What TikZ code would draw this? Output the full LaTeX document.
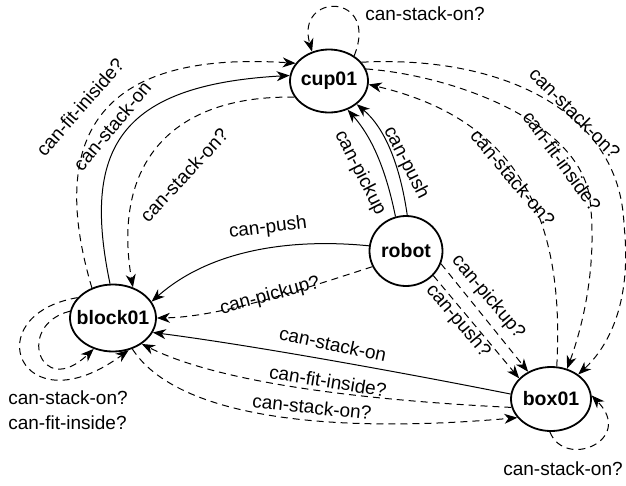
\documentclass[tikz,border=0pt]{standalone}
\usepackage{fontspec}
\setmainfont{Liberation Sans}
\usetikzlibrary{arrows.meta,shapes.geometric}

\begin{document}
\begin{tikzpicture}[x=1pt,y=-1pt,
  state/.style={ellipse, draw, line width=1.8pt, inner sep=0pt,
    font=\fontsize{19.5}{22}\selectfont\bfseries},
  rel/.style={line width=1pt, -{Stealth[length=13pt,width=10pt,inset=4pt]}},
  maybe/.style={rel, dash pattern=on 7pt off 5pt},
  lbl/.style={font=\fontsize{19}{25}\selectfont, inner sep=0pt}]
\useasboundingbox (0,0) rectangle (626,485);

% objects of the scene
\node[state, minimum width=78pt, minimum height=63pt] (cup)   at (329,81)  {\makebox[0pt]{cup01}};
\node[state, minimum width=73pt, minimum height=70pt] (robot) at (406,251) {\makebox[0pt]{robot}};
\node[state, minimum width=86pt, minimum height=67pt] (block) at (113,318) {\makebox[0pt]{block01}};
\node[state, minimum width=80pt, minimum height=64pt] (box)   at (551,399) {\makebox[0pt]{box01}};

% cup01 onto itself
\draw[maybe] (cup.45) .. controls (380,-8) and (295,-8) .. (cup.120);
\node[lbl] (lcupself) at (425,14) {can-stack-on?};

% robot -> cup01
\draw[rel] (robot.107) .. controls (385,165) and (370,135) .. (cup.303);
\draw[rel] (robot.88) .. controls (400,165) and (385,128) .. (cup.320);
\node[lbl, rotate=-63] (lrcpick) at (360,173) {can-pickup};
\node[lbl, rotate=-63] (lrcpush) at (406,163) {can-push};

% block01 <-> cup01
\draw[maybe] (block.125) .. controls (48,140) and (95,50) .. (cup.152);
\draw[rel] (block.95) .. controls (82,150) and (118,85) .. (cup.172);
\draw[maybe] (cup.205) .. controls (170,95) and (112,165) .. (block.57);
\node[lbl, rotate=49] (lbcfit) at (80,107) {can-fit-iniside?};
\node[lbl, rotate=50] (lbcstack) at (112,126) {can-stack-on};
\node[lbl, rotate=47] (lcbstack) at (184,175) {can-stack-on?};

% robot -> block01
\draw[rel] (robot.172) .. controls (290,238) and (210,250) .. (block.23);
\draw[maybe] (robot.205) .. controls (300,290) and (220,317) .. (block.0);
\node[lbl, rotate=7] (lrbpush) at (268,228) {can-push};
\node[lbl, rotate=15] (lrbpick) at (270,296) {can-pickup?};

% box01 <-> block01
\draw[rel] (box.173) .. controls (400,372) and (250,345) .. (block.340);
\draw[maybe] (box.192) .. controls (400,402) and (230,388) .. (block.318);
\draw[maybe] (block.302) .. controls (175,415) and (320,435) .. (box.209);
\node[lbl, rotate=-12] (lxbstack) at (333,344) {can-stack-on};
\node[lbl, rotate=-9] (lxbfit) at (328,381) {can-fit-inside?};
\node[lbl, rotate=-6] (lbxstack) at (312,407) {can-stack-on?};

% cup01 <-> box01
\draw[maybe] (cup.30) .. controls (500,55) and (620,110) .. (624,225)
  .. controls (632,300) and (610,345) .. (box.42);
\draw[maybe] (cup.18) .. controls (450,75) and (580,120) .. (590,200)
  .. controls (597,260) and (585,320) .. (box.62);
\draw[maybe] (box.80) .. controls (565,220) and (520,120) .. (cup.-5);
\node[lbl, rotate=-45] (lcxstack) at (575,113) {can-stack-on?};
\node[lbl, rotate=-54] (lcxfit) at (562,161) {can-fit-inside?};
\node[lbl, rotate=-50] (lxcstack) at (513,178) {can-stack-on?};

% robot -> box01
\draw[maybe] (robot.-20) -- (box.130);
\draw[maybe] (robot.-42) -- (box.147);
\node[lbl, rotate=-50] (lrxpick) at (488,297) {can-pickup?};
\node[lbl, rotate=-50] (lrxpush) at (458,321) {can-push?};

% box01 onto itself
\draw[maybe] (box.268) .. controls (565,470) and (635,440) .. (box.5);
\node[lbl] (lboxself) at (563,469) {can-stack-on?};

% block01 onto itself
\draw[maybe] (block.150) .. controls (-25,315) and (20,430) .. (block.296);
\draw[maybe] (block.171) .. controls (15,325) and (40,400) .. (block.238);
\node[lbl, align=left] (lblockself) at (68,410) {can-stack-on?\\can-fit-inside?};
\end{tikzpicture}
\end{document}
